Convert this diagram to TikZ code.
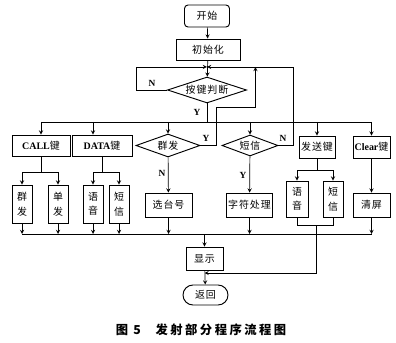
\documentclass[tikz,border=0pt]{standalone}
\usepackage{fontspec}
\usepackage{tikz}
\usetikzlibrary{shapes,arrows,positioning,calc}
\setmainfont{Liberation Serif}
\newfontfamily\cjk[LetterSpace=10]{Noto Sans CJK SC}
\newfontfamily\cjkcap[LetterSpace=20]{Noto Sans CJK SC}

\begin{document}
\begin{tikzpicture}[
    x=0.03cm, y=-0.03cm,
    font=\cjk\fontsize{8.5}{10}\selectfont,
    box/.style={rectangle, draw, line width=0.8pt, inner sep=1pt, align=center},
    vbox/.style={box, minimum width=0.6cm, minimum height=1.14cm, font=\cjk\fontsize{8.5}{12.5}\selectfont},
    dia/.style={diamond, draw, line width=0.8pt, inner sep=0pt, aspect=3},
    lbl/.style={font=\rmfamily\bfseries\fontsize{8}{10}\selectfont},
    arrow/.style={->, >=stealth, line width=0.6pt},
    line/.style={line width=0.6pt}
]
\useasboundingbox (0,0) rectangle (396,343);

% Start and init
\node[box, rounded corners=3pt, minimum width=1.35cm, minimum height=0.66cm] (start) at (207,16) {开始};
\node[box, minimum width=1.92cm, minimum height=0.63cm] (init) at (208,49.5) {初始化};
\coordinate (merge) at (207,67);
\node[dia, minimum width=2.37cm, minimum height=0.78cm] (key) at (207,90) {按键判断};
\coordinate (bustop) at (207,122);
\coordinate (busbot) at (205,234);

% Key branches
\node[box, minimum width=1.74cm, minimum height=0.63cm] (call) at (41,145.5) {{\rmfamily\bfseries CALL}键};
\node[box, minimum width=1.8cm, minimum height=0.63cm] (data) at (102,145.5) {{\rmfamily\bfseries DATA}键};
\node[dia, minimum width=1.92cm, minimum height=0.69cm] (grp) at (168,145.5) {群发};
\node[dia, minimum width=1.68cm, minimum height=0.63cm] (sms) at (250,145.5) {短信};
\node[box, minimum width=1.08cm, minimum height=0.66cm] (send) at (317,147) {发送键};
\node[box, minimum width=1.11cm, minimum height=0.66cm] (clr) at (371.5,147) {{\rmfamily\bfseries Clear}键};

% Second row
\node[vbox] (cgrp) at (22,204) {群\\发};
\node[vbox] (cone) at (58,204) {单\\发};
\node[vbox] (dvoice) at (93,204) {语\\音};
\node[vbox] (dsms) at (119,204) {短\\信};
\node[box, minimum width=1.41cm, minimum height=0.72cm] (chan) at (168.5,205) {选台号};
\node[box, minimum width=1.35cm, minimum height=0.72cm] (text) at (249.5,205) {字符处理};
\node[vbox, minimum width=0.66cm, minimum height=1.08cm] (svoice) at (297,199) {语\\音};
\node[vbox, minimum height=1.08cm] (ssms) at (333,199) {短\\信};
\node[box, minimum width=1.11cm, minimum height=0.72cm] (clear) at (371.5,205) {清屏};

% Show and return
\node[box, minimum width=1.11cm, minimum height=0.69cm] (show) at (204.5,258.5) {显示};
\node[box, rounded corners=0.3cm, minimum width=1.35cm, minimum height=0.6cm] (back) at (205.5,295) {返回};

% Title
\node[font=\cjkcap\bfseries\fontsize{10.5}{12}\selectfont] (title) at (201,330) {图 5\hspace{1.2em}发射部分程序流程图};

% Arrows
\draw[arrow] (start) -- (init);
\draw[arrow] (init) -- (key);
\draw[arrow] (key.west) -- ++(-31,0) |- (merge);
\node[lbl] at (152,83) {N};
\draw[line] (key.south) -- (bustop);
\node[lbl] at (197,112) {Y};
\draw[line] (call.north |- bustop) -- (clr.north |- bustop);
\coordinate (dtop) at ([xshift=-0.27cm]data.north);
\draw[arrow] (call.north |- bustop) -- (call);
\draw[arrow] (dtop |- bustop) -- (dtop);
\draw[arrow] (grp.north |- bustop) -- (grp);
\draw[arrow] (sms.north |- bustop) -- (sms);
\draw[arrow] (send.north |- bustop) -- (send);
\draw[arrow] (clr.north |- bustop) -- (clr);

% CALL and DATA
\draw[line] (call.south) -- ++(0,16) coordinate (csplit);
\draw[line] (csplit -| cgrp) -- (csplit -| cone);
\draw[arrow] (csplit -| cgrp) -- (cgrp);
\draw[arrow] (csplit -| cone) -- (cone);
\draw[line] (data.south) -- ++(0,16) coordinate (dsplit);
\draw[line] (dsplit -| dvoice) -- (dsplit -| dsms);
\draw[arrow] (dsplit -| dvoice) -- (dvoice);
\draw[arrow] (dsplit -| dsms) -- (dsms);

% Group send
\draw[arrow] (grp) -- (chan);
\node[lbl] at (162,173) {N};
\draw[arrow] (grp.east) -- ++(16,0) -- ++(0,-38.5) -- ++(39,0) -- ++(0,-40);
\node[lbl] at (206,138) {Y};

% SMS
\draw[arrow] (sms) -- (text);
\node[lbl] at (243,175) {Y};
\draw[arrow] (sms.east) -- ++(15,0) |- (merge);
\node[lbl] at (283,138) {N};

% Send key
\draw[line] (send.south) -- ++(0,12) coordinate (ssplit);
\draw[line] (ssplit -| svoice) -- (ssplit -| ssms);
\draw[arrow] (ssplit -| svoice) -- (svoice);
\draw[arrow] (ssplit -| ssms) -- (ssms);
\coordinate (sjoin) at (316,225);
\coordinate (sret) at (316,273);
\draw[line] (svoice) -- (svoice |- sjoin) -- (ssms |- sjoin) -- (ssms);
\draw[arrow] (sjoin) -- (sret) -- (show.south |- sret);

% Clear key
\draw[arrow] (clr) -- (clear);

% Bottom bus
\draw[line] (cgrp |- busbot) -- (clear |- busbot);
\foreach \n in {cgrp,cone,dvoice,dsms,chan,text,clear}
    \draw[arrow] (\n) -- (\n |- busbot);
\draw[arrow] (show.north |- busbot) -- (show);
\draw[arrow] (show) -- (back);

\end{tikzpicture}
\end{document}
